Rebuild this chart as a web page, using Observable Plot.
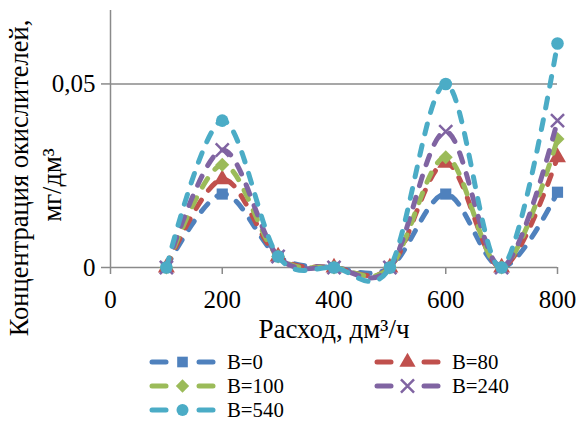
<!DOCTYPE html>
<html>
<head>
<meta charset="utf-8">
<script src="https://cdn.jsdelivr.net/npm/d3@7"></script>
<script src="https://cdn.jsdelivr.net/npm/@observablehq/plot@0.6"></script>
<style>
  body { margin: 0; background: white; }
  #chart svg { display: block; font-family: 'Liberation Serif', 'Times New Roman', serif !important; }
  #chart svg text { font-family: 'Liberation Serif', 'Times New Roman', serif !important; }
</style>
</head>
<body>
<div id="chart"></div>
<script>
// ---- data ----
const flows = [100, 200, 300, 400, 500, 600, 700, 800];
const seriesNames = ["B=0", "B=80", "B=100", "B=240", "B=540"];
const b0   = [0, 0.020, 0.003, 0, 0, 0.020, 0, 0.0205];
const b80  = [0, 0.024, 0.003, 0, 0, 0.0285, 0, 0.030];
const b100 = [0, 0.028, 0.003, 0, 0, 0.030, 0, 0.035];
const b240 = [0, 0.032, 0.003, 0, 0, 0.037, 0, 0.040];
const b540 = [0, 0.040, 0.003, 0, 0, 0.050, 0, 0.061];
const seriesValues = [b0, b80, b100, b240, b540];
const seriesColors = ["#4F81BD", "#C0504D", "#9BBB59", "#8064A2", "#4BACC6"];
const seriesSymbols = ["square", "triangle", "diamond2", "times", "circle"];
const xTicks = [0, 200, 400, 600, 800];
const yTicks = [0, 0.05];
const xLabel = "Расход, дм³/ч";
const yLabel1 = "Концентрация окислителей,";
const yLabel2 = "мг/дм³";

const W = 580, H = 345;
const gray = "#8a8a8a";
const font = "'Liberation Serif', 'Times New Roman', serif";

const rows = seriesNames.flatMap((name, k) =>
  flows.map((x, i) => ({x, y: seriesValues[k][i], name})));

const marks = [
  Plot.ruleY(yTicks, {stroke: gray, strokeWidth: 1.5}),
  Plot.ruleX([0], {y1: 0, y2: 0.07, stroke: gray, strokeWidth: 1.5}),
  Plot.axisX({ticks: xTicks, tickSize: 7, tickPadding: 16, stroke: gray, strokeWidth: 1.5, label: null,
    fontFamily: font, fontSize: 25, tickFormat: d => String(d)}),
  Plot.axisY({ticks: yTicks, tickSize: 9, tickPadding: 6, stroke: gray, strokeWidth: 1.5, label: null,
    fontFamily: font, fontSize: 25, tickFormat: d => d === 0 ? "0" : String(d).replace(".", ",")})
];
seriesNames.forEach((name, k) => {
  const data = rows.filter(r => r.name === name);
  marks.push(Plot.line(data, {x: "x", y: "y", stroke: seriesColors[k], strokeWidth: 5,
    strokeDasharray: "10,12", strokeLinecap: "round", curve: "cardinal", tension: 0}));
  const isStroke = seriesSymbols[k] === "times";
  marks.push(Plot.dot(data, {x: "x", y: "y", symbol: seriesSymbols[k], r: isStroke ? 6 : 6.3,
    fill: isStroke ? "none" : seriesColors[k], stroke: isStroke ? seriesColors[k] : "none",
    strokeWidth: isStroke ? 2.5 : 0}));
});

const plot = Plot.plot({
  width: W, height: H,
  marginLeft: 110, marginRight: 23, marginTop: 10, marginBottom: H - 267,
  x: {domain: [0, 800]},
  y: {domain: [0, 0.07]},
  style: {fontFamily: font, fontSize: "25px", color: "black", background: "white", overflow: "visible"},
  marks
});

const svg = d3.select(plot);
svg.append("text").attr("x", 334).attr("y", 338).attr("text-anchor", "middle")
  .attr("font-family", font).attr("font-size", 27).attr("fill", "black").text(xLabel);
svg.append("text").attr("transform", "translate(28,178) rotate(-90)").attr("text-anchor", "middle")
  .attr("font-family", font).attr("font-size", 26.5).attr("fill", "black").text(yLabel1);
svg.append("text").attr("transform", "translate(61,185) rotate(-90)").attr("text-anchor", "middle")
  .attr("font-family", font).attr("font-size", 26.5).attr("fill", "black").text(yLabel2);

document.getElementById("chart").appendChild(plot);

// ---- legend ----
const LH = 423 - H;
const leg = d3.select("#chart").append("svg").attr("width", W).attr("height", LH)
  .style("display", "block").style("background", "white");
const symMap = {square: d3.symbolSquare, triangle: d3.symbolTriangle, diamond2: d3.symbolDiamond2,
  times: d3.symbolTimes, circle: d3.symbolCircle};
const colX = [150, 375];
const rowY = [362 - H, 386 - H, 410 - H];
seriesNames.forEach((name, k) => {
  const cx = colX[k % 2], cy = rowY[Math.floor(k / 2)];
  const g = leg.append("g").attr("transform", `translate(${cx},${cy})`);
  [[2, 16], [49, 63]].forEach(([a, b]) => g.append("line").attr("x1", a).attr("x2", b)
    .attr("y1", 0).attr("y2", 0).attr("stroke", seriesColors[k]).attr("stroke-width", 5)
    .attr("stroke-linecap", "round"));
  const isStroke = seriesSymbols[k] === "times";
  g.append("path").attr("transform", "translate(32.5,0)")
    .attr("d", d3.symbol(symMap[seriesSymbols[k]], Math.PI * 36)())
    .attr("fill", isStroke ? "none" : seriesColors[k])
    .attr("stroke", isStroke ? seriesColors[k] : "none").attr("stroke-width", 2.5);
  g.append("text").attr("x", 77).attr("y", 0).attr("dy", "0.35em")
    .attr("font-family", font).attr("font-size", 20.8).attr("fill", "black").text(name);
});
</script>
</body>
</html>
